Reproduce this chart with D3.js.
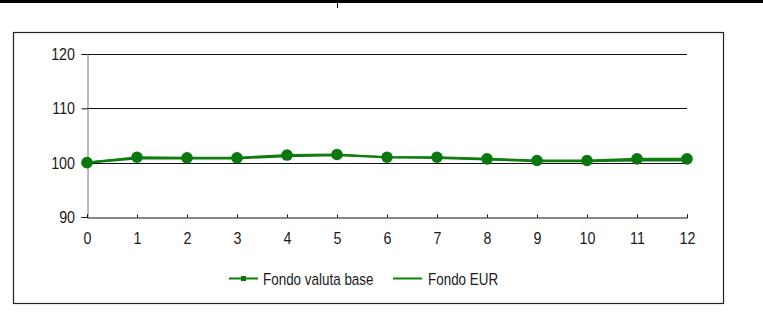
<!DOCTYPE html>
<html><head><meta charset="utf-8">
<script src="https://cdn.jsdelivr.net/npm/d3@7"></script>
<style>
html,body{margin:0;padding:0;background:#fff;}
svg{display:block;}
text{font-family:"Liberation Sans Narrow","Arial Narrow","Liberation Sans",Arial,sans-serif;fill:#1a1a1a;}
</style></head>
<body><svg id="c" width="763" height="333"></svg>
<script>
const months = [0,1,2,3,4,5,6,7,8,9,10,11,12];
const fondoValutaBase = [100,101.0,100.9,100.9,101.4,101.5,101.0,101.0,100.7,100.4,100.4,100.7,100.7];
const fondoEUR = [100,100.8,100.8,100.8,101.2,101.4,101.0,100.9,100.6,100.3,100.3,100.4,100.4];
const yTicks = [90,100,110,120];
const seriesNames = ["Fondo valuta base","Fondo EUR"];

const svg = d3.select("#c");
const green = "#0b800b";
const markerGreen = "#0a780f";
const sx = 0.84;

// top rule
svg.append("rect").attr("x",0).attr("y",0).attr("width",763).attr("height",3).attr("fill","#000");
svg.append("rect").attr("x",337).attr("y",3).attr("width",1).attr("height",5).attr("fill","#000");

// frame
svg.append("rect").attr("x",13.5).attr("y",32.5).attr("width",710).attr("height",271)
  .attr("fill","#fff").attr("stroke","#222").attr("stroke-width",1.2);

const x = d3.scaleLinear().domain([0,12]).range([87,687]);
const y = d3.scaleLinear().domain([90,120]).range([217,54]);

// gridlines
svg.append("g").selectAll("line").data(yTicks.filter(t=>t>90)).join("line")
  .attr("x1",x(0)).attr("x2",x(12)).attr("y1",d=>Math.round(y(d))+0.5).attr("y2",d=>Math.round(y(d))+0.5)
  .attr("stroke","#111").attr("stroke-width",1);

// y axis
const yAxis = svg.append("g").attr("transform",`translate(${x(0)+0.5},0)`)
  .call(d3.axisLeft(y).tickValues(yTicks).tickSize(6).tickFormat(d3.format("d")));
yAxis.select(".domain").attr("stroke","#777");
yAxis.selectAll(".tick line").attr("stroke","#111");
yAxis.selectAll("text").attr("x",-12.5/sx).attr("transform",`scale(${sx},1)`)
  .style("font-size","17px").attr("fill","#1a1a1a");

// x axis
const xAxis = svg.append("g").attr("transform",`translate(0,${Math.round(y(90))+0.5})`)
  .call(d3.axisTop(x).tickValues(months).tickSize(3).tickFormat(d3.format("d")));
xAxis.select(".domain").attr("stroke","#111");
xAxis.selectAll(".tick line").attr("stroke","#111");
xAxis.selectAll("text").attr("y",27).attr("dy",0).attr("transform",`scale(${sx},1)`)
  .style("font-size","17px").attr("fill","#1a1a1a");

const line = d3.line().x((d,i)=>x(months[i])).y(d=>y(d));

svg.append("path").datum(fondoEUR).attr("d",line).attr("fill","none")
  .attr("stroke","#14701a").attr("stroke-width",2.2);
svg.append("path").datum(fondoValutaBase).attr("d",line).attr("fill","none")
  .attr("stroke",green).attr("stroke-width",2.2);
svg.append("g").selectAll("circle").data(fondoValutaBase).join("circle")
  .attr("cx",(d,i)=>x(months[i])).attr("cy",d=>y(d)).attr("r",5.8).attr("fill",markerGreen);

// legend
const lg = svg.append("g");
const ly = 278.5;
lg.append("line").attr("x1",229).attr("x2",258).attr("y1",ly).attr("y2",ly).attr("stroke",green).attr("stroke-width",2);
lg.append("rect").attr("x",241).attr("y",ly-2.5).attr("width",5).attr("height",5).attr("fill",markerGreen);
lg.append("g").attr("transform",`translate(263,${ly+6}) scale(${sx},1)`)
  .append("text").style("font-size","16px").text(seriesNames[0]);
lg.append("line").attr("x1",393).attr("x2",422).attr("y1",ly).attr("y2",ly).attr("stroke",green).attr("stroke-width",2);
lg.append("g").attr("transform",`translate(428,${ly+6}) scale(${sx},1)`)
  .append("text").style("font-size","16px").text(seriesNames[1]);
</script></body></html>
